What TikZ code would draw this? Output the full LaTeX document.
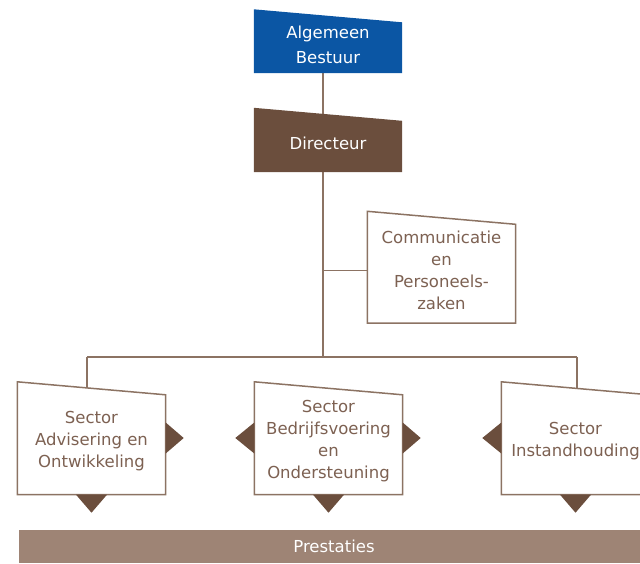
\documentclass[tikz,border=0pt]{standalone}
\usepackage{fontspec}
\setmainfont{DejaVu Sans}
\usetikzlibrary{calc}
\definecolor{abblue}{HTML}{0B56A4}
\definecolor{dbrown}{HTML}{6B4E3D}
\definecolor{barbrown}{HTML}{9E8475}
\definecolor{txtbrown}{HTML}{7D6152}
\definecolor{linebrown}{HTML}{8C7363}
\pgfdeclarelayer{lines}
\pgfdeclarelayer{boxes}
\pgfsetlayers{lines,boxes,main}
\tikzset{
  orgbox/.style={minimum width=148, minimum height=#1, inner sep=0pt, align=center,
    font=\fontsize{16.5}{22}\selectfont},
  darktext/.style={text=white},
  lighttext/.style={text=txtbrown},
  conn/.style={draw=linebrown, line width=1.5pt},
  whiteslab/.style={fill=white, draw=linebrown, line width=1.5pt, line join=miter},
  tri/.style={fill=dbrown},
}
\newcommand\slab[2]{%
  \begin{pgfonlayer}{boxes}
    \path[#2] ([yshift=6.5pt]#1.north west) -- ([yshift=-6.5pt]#1.north east) -- (#1.south east) -- (#1.south west) -- cycle;
  \end{pgfonlayer}}
\begin{document}
\begin{tikzpicture}[x=1pt,y=-1pt]
\useasboundingbox (0,0) rectangle (640,563);
\clip (0,0) rectangle (640,563);
% nodes
\node[orgbox=57, darktext, font=\fontsize{16.5}{25}\selectfont] (ab) at (328,44.5) {Algemeen\\Bestuur};
\node[orgbox=57.5, darktext] (dir) at (328,143.25) {Directeur};
\node[orgbox=105, lighttext] (com) at (441.5,270.5) {Communicatie\\en\\Personeels-\\zaken};
\node[orgbox=106, lighttext] (s1) at (91.5,441.5) {Sector\\Advisering en\\Ontwikkeling};
\node[orgbox=106, lighttext] (s2) at (328.5,441.5) {Sector\\Bedrijfsvoering\\en\\Ondersteuning};
\node[orgbox=106, lighttext] (s3) at (575.5,441.5) {Sector\\Instandhouding};
\node[minimum width=630, minimum height=33, inner sep=0pt, fill=barbrown, text=white,
      font=\fontsize{16.5}{22}\selectfont] (prest) at (334,546.5) {Prestaties};
% box shapes
\slab{ab}{fill=abblue}
\slab{dir}{fill=dbrown}
\slab{com}{whiteslab}
\slab{s1}{whiteslab}
\slab{s2}{whiteslab}
\slab{s3}{whiteslab}
% triangles
\begin{pgfonlayer}{boxes}
\fill[tri] ($(s1.east)+(0,-19)$) -- ($(s1.east)+(18,-3.5)$) -- ($(s1.east)+(0,12)$) -- cycle;
\fill[tri] ($(s2.west)+(0,-19)$) -- ($(s2.west)+(-19,-3.5)$) -- ($(s2.west)+(0,12)$) -- cycle;
\fill[tri] ($(s2.east)+(0,-19)$) -- ($(s2.east)+(18,-3.5)$) -- ($(s2.east)+(0,12)$) -- cycle;
\fill[tri] ($(s3.west)+(0,-19)$) -- ($(s3.west)+(-19,-3.5)$) -- ($(s3.west)+(0,12)$) -- cycle;
\foreach \n in {s1,s2,s3}{
  \fill[tri] ($(\n.south)+(-15.5,0)$) -- ($(\n.south)+(0,18)$) -- ($(\n.south)+(15.5,0)$) -- cycle;
}
\end{pgfonlayer}
% connectors
\coordinate (spine) at (323,0);
\coordinate (bus) at (323,357);
\coordinate (b1) at (87,357);
\coordinate (b3) at (577,357);
\begin{pgfonlayer}{lines}
\draw[conn] (ab.south -| spine) -- (dir.north -| spine);
\draw[conn] (dir.south -| spine) -- (bus);
\draw[conn] (spine |- com.west) -- (com.west);
\draw[conn] (b1) -- (b3);
\draw[conn] (b1) -- (b1 |- s1.north);
\draw[conn] (b3) -- (b3 |- s3.north);
\end{pgfonlayer}
\end{tikzpicture}
\end{document}
